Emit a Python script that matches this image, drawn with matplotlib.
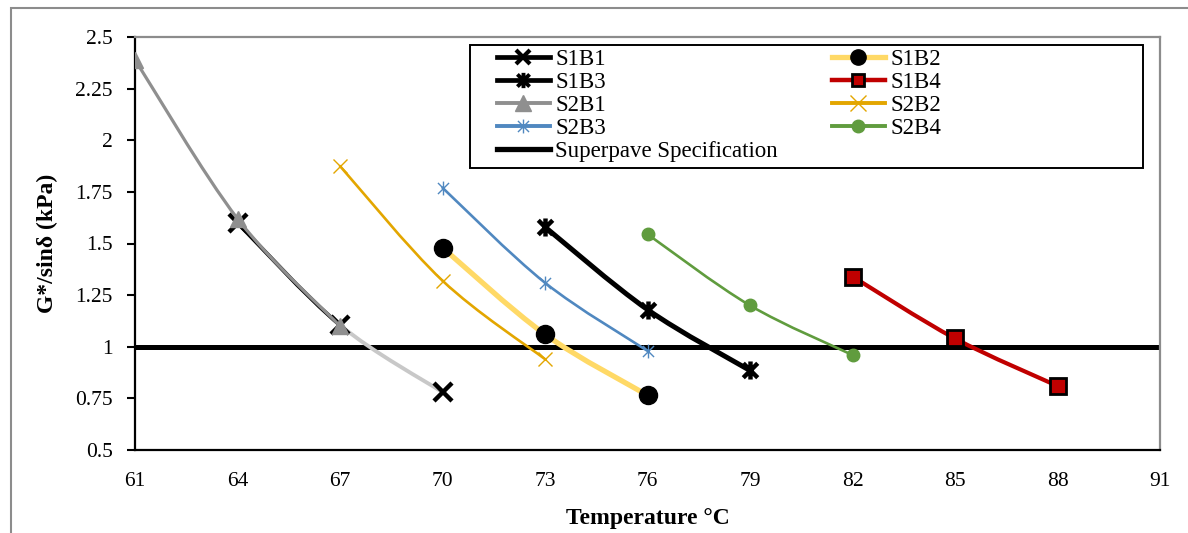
import numpy as np
import matplotlib.pyplot as plt
from matplotlib.path import Path
from matplotlib.patches import PathPatch, Rectangle
from matplotlib.lines import Line2D

plt.rcParams['font.family'] = ['Liberation Serif', 'DejaVu Serif']

# data
temp_s1b1 = [64, 67, 70]
s1b1 = [1.60, 1.105, 0.78]
temp_s1b2 = [70, 73, 76]
s1b2 = [1.48, 1.06, 0.765]
temp_s1b3 = [73, 76, 79]
s1b3 = [1.58, 1.18, 0.885]
temp_s1b4 = [82, 85, 88]
s1b4 = [1.34, 1.04, 0.81]
temp_s2b1 = [61, 64, 67]
s2b1 = [2.39, 1.62, 1.10]
temp_s2b2 = [67, 70, 73]
s2b2 = [1.875, 1.32, 0.94]
temp_s2b3 = [70, 73, 76]
s2b3 = [1.77, 1.31, 0.98]
temp_s2b4 = [76, 79, 82]
s2b4 = [1.545, 1.20, 0.96]
spec_value = 1.0

xticks = list(range(61, 92, 3))
yticks = [0.5, 0.75, 1, 1.25, 1.5, 1.75, 2, 2.25, 2.5]

# star marker (x with a vertical bar), like the Excel one
star = Path([(-1, -1), (1, 1), (-1, 1), (1, -1), (0, -1.25), (0, 1.25)],
            [Path.MOVETO, Path.LINETO, Path.MOVETO, Path.LINETO, Path.MOVETO, Path.LINETO])


def bezier_segments(x, y):
    # Excel-like smoothed line: one cubic per segment, Catmull-Rom tangents
    p = np.column_stack([x, y]).astype(float)
    n = len(p)
    segs = []
    for i in range(n - 1):
        p0 = p[max(i - 1, 0)]
        p1 = p[i]
        p2 = p[i + 1]
        p3 = p[min(i + 2, n - 1)]
        c1 = p1 + (p2 - p0) / 6.0
        c2 = p2 - (p3 - p1) / 6.0
        segs.append([p1, c1, c2, p2])
    return segs


def smooth_line(ax, x, y, colors, lw, z):
    segs = bezier_segments(x, y)
    if isinstance(colors, str):
        colors = [colors] * len(segs)
    for seg, c in zip(segs, colors):
        path = Path(seg, [Path.MOVETO, Path.CURVE4, Path.CURVE4, Path.CURVE4])
        ax.add_patch(PathPatch(path, fill=False, edgecolor=c, lw=lw,
                               capstyle='round', zorder=z))


W, H = 1188, 533
fig = plt.figure(figsize=(W / 100, H / 100), dpi=100)
ax = fig.add_axes([135 / W, 1 - 450 / H, 1025 / W, 413 / H])


def ax_x(px):
    return (px - 135) / 1025


def ax_y(py):
    return (450 - py) / 413


# outer grey frame
fig.add_artist(Rectangle((11 / W, -0.1), 1.2, 1 - 8 / H + 0.1,
                         transform=fig.transFigure, fill=False,
                         edgecolor='#8c8c8c', lw=1.5))

ax.axhline(spec_value, color='black', lw=3.6, zorder=2)

black = 'black'
yellow = '#FFD966'
red = '#C00000'
grey = '#8F8F8F'
gold = '#E3A600'
blue = '#5088C0'
green = '#609C3E'

smooth_line(ax, temp_s1b1, s1b1, [black, '#C8C8C8'], 2.8, 3)
ax.plot(temp_s1b1, s1b1, ls='none', marker='x', ms=13, mew=3.2, color=black, zorder=4)

smooth_line(ax, temp_s1b2, s1b2, yellow, 3.8, 3)
ax.plot(temp_s1b2, s1b2, ls='none', marker='o', ms=13, color=black, zorder=4)

smooth_line(ax, temp_s1b3, s1b3, black, 3.6, 3)
ax.plot(temp_s1b3, s1b3, ls='none', marker=star, ms=13, mew=3.2, color=black, zorder=4)

smooth_line(ax, temp_s1b4, s1b4, red, 3.0, 3)
ax.plot(temp_s1b4, s1b4, ls='none', marker='s', ms=12, mew=2, mfc=red, mec=black, zorder=4)

smooth_line(ax, temp_s2b1, s2b1, grey, 2.3, 5)
ax.plot(temp_s2b1, s2b1, ls='none', marker='^', ms=12, color=grey, zorder=6)

smooth_line(ax, temp_s2b2, s2b2, gold, 1.9, 3)
ax.plot(temp_s2b2, s2b2, ls='none', marker='x', ms=10, mew=1.0, color=gold, zorder=4)

smooth_line(ax, temp_s2b3, s2b3, blue, 1.9, 3)
ax.plot(temp_s2b3, s2b3, ls='none', marker=star, ms=10, mew=1.0, color=blue, zorder=4)

smooth_line(ax, temp_s2b4, s2b4, green, 1.9, 3)
ax.plot(temp_s2b4, s2b4, ls='none', marker='o', ms=9, color=green, zorder=4)

ax.set_xlim(61, 91)
ax.set_ylim(0.5, 2.5)
ax.set_xticks(xticks)
ax.set_xticklabels([str(t) for t in xticks])
ax.set_yticks(yticks)
ax.set_yticklabels(['{:g}'.format(t) for t in yticks])
ax.tick_params(axis='x', length=0, pad=16, labelsize=15.5)
ax.tick_params(axis='y', direction='out', length=6, width=1.5, pad=10, labelsize=15.5)

for side in ['left', 'bottom']:
    ax.spines[side].set_color('black')
    ax.spines[side].set_linewidth(1.6)
for side in ['top', 'right']:
    ax.spines[side].set_color('#8c8c8c')
    ax.spines[side].set_linewidth(1.6)

ax.set_xlabel('Temperature °C', fontsize=17, fontweight='bold', labelpad=12)
ax.set_ylabel('G*/sinδ (kPa)', fontsize=17, fontweight='bold', labelpad=12)

col1 = [
    Line2D([], [], color=black, lw=3.4, marker='x', ms=10, mew=3, label='S1B1'),
    Line2D([], [], color=black, lw=3.4, marker=star, ms=11, mew=2.8, label='S1B3'),
    Line2D([], [], color=grey, lw=2.8, marker='^', ms=11, label='S2B1'),
    Line2D([], [], color=blue, lw=2.8, marker=star, ms=10, mew=1, label='S2B3'),
    Line2D([], [], color=black, lw=3.8, label='Superpave Specification'),
]
col2 = [
    Line2D([], [], color=yellow, lw=3.8, marker='o', ms=11, mfc=black, mec=black, label='S1B2'),
    Line2D([], [], color=red, lw=3.2, marker='s', ms=9, mfc=red, mec=black, mew=2, label='S1B4'),
    Line2D([], [], color=gold, lw=2.8, marker='x', ms=11, mew=1, label='S2B2'),
    Line2D([], [], color=green, lw=2.8, marker='o', ms=9, label='S2B4'),
]
leg_kw = dict(loc='upper left', fontsize=16.5, frameon=False, handlelength=2.3,
              handletextpad=0.25, labelspacing=0.09, borderpad=0, borderaxespad=0)
leg1 = ax.legend(handles=col1, bbox_to_anchor=(ax_x(497), ax_y(49)), **leg_kw)
leg1.set_zorder(10)
ax.add_artist(leg1)
leg2 = ax.legend(handles=col2, bbox_to_anchor=(ax_x(832), ax_y(49)), **leg_kw)
leg2.set_zorder(10)

# legend frame
ax.add_patch(Rectangle((ax_x(470), ax_y(168)), ax_x(1143) - ax_x(470), ax_y(45) - ax_y(168),
                       transform=ax.transAxes, facecolor='white', edgecolor='black',
                       lw=1.4, zorder=9))

fig.savefig('out.png', dpi=100)
